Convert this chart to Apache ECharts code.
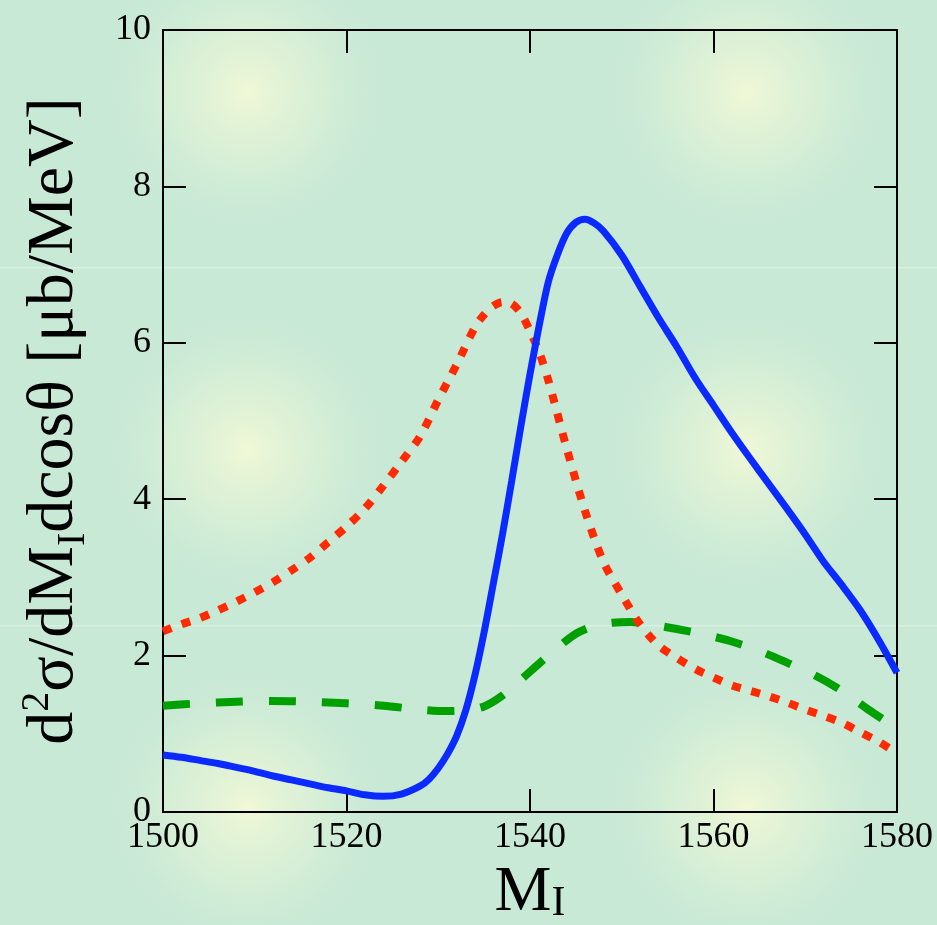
<!DOCTYPE html>
<html><head><meta charset="utf-8">
<script src="https://cdn.jsdelivr.net/npm/echarts@6/dist/echarts.min.js"></script>
<style>html,body{margin:0;padding:0;background:#c8e9d6;}#c{width:937px;height:925px;}</style>
</head><body><div id="c"></div>
<script>
var xTicks = [1500, 1520, 1540, 1560, 1580];
var yTicks = [0, 2, 4, 6, 8, 10];

var blueX = [1500,1502,1504,1506,1508,1510,1512,1514,1516,1518,1520,1522,1524,1526,1528,1529,1530,1531,1532,1533,1534,1535,1536,1537,1538,1539,1540,1541,1542,1543,1544,1545,1546,1547,1548,1550,1552,1554,1556,1558,1560,1562,1564,1566,1568,1570,1572,1574,1576,1578,1580];
var blueY = [0.73,0.70,0.66,0.62,0.57,0.52,0.46,0.41,0.36,0.31,0.27,0.22,0.20,0.23,0.33,0.42,0.56,0.74,0.97,1.30,1.75,2.30,2.92,3.55,4.23,4.93,5.60,6.22,6.78,7.13,7.40,7.54,7.58,7.53,7.43,7.12,6.72,6.32,5.95,5.55,5.20,4.85,4.52,4.20,3.88,3.55,3.20,2.90,2.58,2.20,1.78];

var redX = [1500,1502,1504,1506,1508,1510,1512,1514,1516,1518,1520,1522,1524,1526,1528,1530,1532,1534,1535,1536,1537,1538,1539,1540,1541,1542,1544,1546,1548,1550,1552,1554,1556,1558,1560,1562,1564,1566,1568,1570,1572,1574,1576,1578,1580];
var redY = [2.31,2.40,2.48,2.58,2.69,2.81,2.94,3.09,3.25,3.45,3.65,3.88,4.17,4.48,4.80,5.27,5.72,6.20,6.36,6.47,6.52,6.50,6.38,6.15,5.88,5.52,4.65,3.85,3.20,2.78,2.40,2.13,1.97,1.83,1.72,1.62,1.55,1.48,1.40,1.31,1.23,1.14,1.02,0.90,0.75];

var greenX = [1500,1504,1508,1512,1516,1520,1524,1528,1531,1533,1535,1537,1539,1541,1543,1545,1547,1549,1551,1553,1556,1559,1562,1565,1568,1571,1574,1577,1580];
var greenY = [1.36,1.39,1.41,1.42,1.41,1.39,1.36,1.31,1.29,1.30,1.35,1.49,1.69,1.90,2.10,2.28,2.38,2.42,2.43,2.40,2.34,2.27,2.18,2.06,1.91,1.75,1.55,1.30,1.07];

function pairs(xs, ys){ return xs.map(function(x,i){ return [x, ys[i]]; }); }

var chart = echarts.init(document.getElementById('c'));
var FONT = 'Liberation Serif';

var bg = [];
bg.push({type:'rect', shape:{x:0,y:0,width:937,height:925}, style:{fill:'#c8e9d6'}, z:-10, silent:true});
var spotsX = [247, 747], spotsY = [92, 450, 808];
spotsX.forEach(function(sx){ spotsY.forEach(function(sy){
  bg.push({type:'circle', shape:{cx:sx, cy:sy, r:150}, silent:true, z:-9,
    style:{fill:{type:'radial', x:0.5, y:0.5, r:0.5, colorStops:[
      {offset:0, color:'rgba(240,248,214,1)'},
      {offset:0.5, color:'rgba(224,242,214,0.6)'},
      {offset:1, color:'rgba(200,233,214,0)'}]}}});
});});
[267, 625].forEach(function(ly){
  bg.push({type:'rect', shape:{x:0,y:ly,width:937,height:1.5}, style:{fill:'rgba(255,255,255,0.35)'}, z:-8, silent:true});
});

var axisLineStyle = {color:'#000', width:2};
chart.setOption({
  animation:false,
  graphic: bg,
  grid:{left:163, top:30, right:40, bottom:113, containLabel:false, outerBoundsMode:'none'},
  xAxis:[{
    type:'value', min:1500, max:1580, interval:20,
    axisLine:{show:true, onZero:false, lineStyle:axisLineStyle},
    axisTick:{show:true, inside:true, length:23, lineStyle:{color:'#000', width:2}},
    splitLine:{show:false},
    axisLabel:{fontFamily:FONT, fontSize:36, color:'#000', margin:8,
      formatter:function(v){ return xTicks.indexOf(v)>=0 ? String(v) : ''; }},
    name:'{m|M}{s|I}', nameLocation:'middle', nameGap:47,
    nameTextStyle:{fontFamily:FONT, color:'#000', rich:{
      m:{fontFamily:FONT, fontSize:64, color:'#000', verticalAlign:'top', lineHeight:64},
      s:{fontFamily:FONT, fontSize:42, color:'#000', verticalAlign:'bottom', lineHeight:6}}}
  },{
    type:'value', position:'top', min:1500, max:1580, interval:20,
    axisLine:{show:true, onZero:false, lineStyle:axisLineStyle},
    axisTick:{show:true, inside:true, length:23, lineStyle:{color:'#000', width:2}},
    axisLabel:{show:false}, splitLine:{show:false}
  }],
  yAxis:[{
    type:'value', min:0, max:10, interval:2,
    axisLine:{show:true, onZero:false, lineStyle:axisLineStyle},
    axisTick:{show:true, inside:true, length:23, lineStyle:{color:'#000', width:2}},
    splitLine:{show:false},
    axisLabel:{fontFamily:FONT, fontSize:36, color:'#000', margin:12,
      formatter:function(v){ return yTicks.indexOf(v)>=0 ? String(v) : ''; }},
    name:'{t|d}{sup|2}{t|σ/dM}{sub|I}{t|dcosθ [μb/MeV]}', nameLocation:'middle', nameRotate:90, nameGap:70,
    nameTextStyle:{fontFamily:FONT, color:'#000', rich:{
      t:{fontFamily:FONT, fontSize:66, color:'#000', lineHeight:76, verticalAlign:'middle'},
      sup:{fontFamily:FONT, fontSize:40, color:'#000', verticalAlign:'top', lineHeight:40},
      sub:{fontFamily:FONT, fontSize:40, color:'#000', verticalAlign:'bottom', lineHeight:20}}}
  },{
    type:'value', position:'right', min:0, max:10, interval:2,
    axisLine:{show:true, onZero:false, lineStyle:axisLineStyle},
    axisTick:{show:true, inside:true, length:23, lineStyle:{color:'#000', width:2}},
    axisLabel:{show:false}, splitLine:{show:false}
  }],
  series:[
    {type:'line', data:pairs(greenX, greenY), smooth:0.3, showSymbol:false, z:3,
     lineStyle:{color:'#00a000', width:8, type:[27,26], cap:'butt'}},
    {type:'line', data:pairs(redX, redY), smooth:0.3, showSymbol:false, z:4,
     lineStyle:{color:'#ff2a00', width:8, type:[9,11], cap:'butt'}},
    {type:'line', data:pairs(blueX, blueY), smooth:0.3, showSymbol:false, z:5,
     lineStyle:{color:'#0a2aff', width:7}}
  ]
});
</script></body></html>
